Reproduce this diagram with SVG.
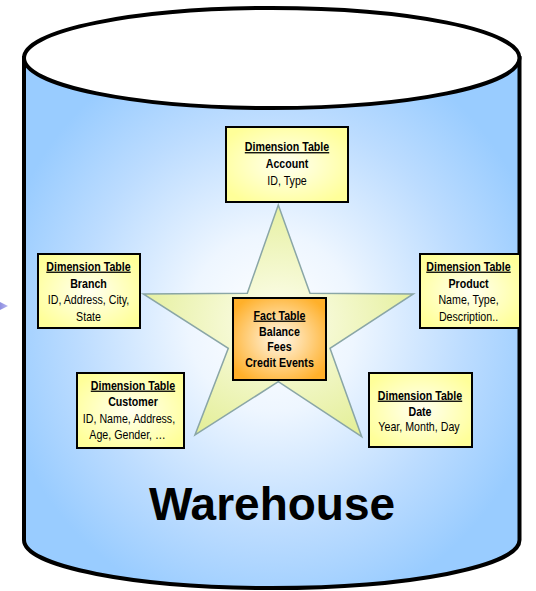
<svg xmlns="http://www.w3.org/2000/svg" width="536" height="591" viewBox="0 0 536 591">
<defs>
<radialGradient id="gBody" cx="0.5" cy="0.5" r="0.56">
<stop offset="0" stop-color="#ffffff"/>
<stop offset="0.3" stop-color="#eef6ff"/>
<stop offset="0.7" stop-color="#bcdcff"/>
<stop offset="1" stop-color="#99ccff"/>
</radialGradient>
<radialGradient id="gDim" cx="0.5" cy="0.5" r="0.6">
<stop offset="0" stop-color="#fffff2"/>
<stop offset="1" stop-color="#ffff99"/>
</radialGradient>
<radialGradient id="gFact" cx="0.5" cy="0.5" r="0.6">
<stop offset="0" stop-color="#fff8ec"/>
<stop offset="1" stop-color="#ffb02a"/>
</radialGradient>
<radialGradient id="gStar" cx="0.5" cy="0.5" r="0.55">
<stop offset="0" stop-color="#fefef0"/>
<stop offset="1" stop-color="#e4ef9a"/>
</radialGradient>
<linearGradient id="gArrow" x1="0" y1="0" x2="1" y2="0">
<stop offset="0" stop-color="#8e8ee0"/>
<stop offset="1" stop-color="#b8b8f0"/>
</linearGradient>
</defs>
<style>
.cyl{stroke:#000;stroke-width:4}
.box{fill:url(#gDim);stroke:#000;stroke-width:2}
.fact{fill:url(#gFact);stroke:#000;stroke-width:2}
.t{font-family:"Liberation Sans",Arial,sans-serif;font-size:13px;text-anchor:middle;fill:#000}
.b{font-weight:bold}
.u{text-decoration:underline}
.big{font-family:"Liberation Sans",Arial,sans-serif;font-size:46px;font-weight:bold;text-anchor:middle;fill:#000}
</style>

<g id="warehouse">
<path class="cyl" d="M24,58 L24,540 A247.75,48 0 0 0 519.5,540 L519.5,58 Z" fill="url(#gBody)"/>
<ellipse class="cyl" cx="271.75" cy="58" rx="247.75" ry="50" fill="#ffffff"/>
<text class="big" x="272" y="520">Warehouse</text>
</g>

<g id="arrow-in">
<polygon points="0,302 8,306 0,310" fill="url(#gArrow)"/>
</g>

<g id="star">
<polygon points="278.3,205 310,293.3 413.3,294 330,348.3 361.7,436.7 278.3,381.7 195,435 228.3,348.3 143.3,294 247.3,293.3" fill="url(#gStar)" stroke="#8aa6a6" stroke-width="1.5" stroke-linejoin="miter"/>
</g>

<g id="connectors"></g>

<g id="fact">
<rect class="fact" x="233" y="298" width="93" height="82"/>
<text class="t b u" transform="translate(279.5,319.5) scale(0.82,1)">Fact Table</text>
<text class="t b" transform="translate(279.5,335.5) scale(0.82,1)">Balance</text>
<text class="t b" transform="translate(279.5,350.5) scale(0.82,1)">Fees</text>
<text class="t b" transform="translate(279.5,366.5) scale(0.82,1)">Credit Events</text>
</g>

<g id="account">
<rect class="box" x="226" y="127" width="122" height="75"/>
<text class="t b u" transform="translate(287,151) scale(0.82,1)">Dimension Table</text>
<text class="t b" transform="translate(287,168) scale(0.82,1)">Account</text>
<text class="t" transform="translate(287,185) scale(0.82,1)">ID, Type</text>
</g>

<g id="branch">
<rect class="box" x="38" y="254" width="102" height="74"/>
<text class="t b u" transform="translate(88.5,270.5) scale(0.82,1)">Dimension Table</text>
<text class="t b" transform="translate(88.5,287.5) scale(0.82,1)">Branch</text>
<text class="t" transform="translate(88.5,304) scale(0.82,1)">ID, Address, City,</text>
<text class="t" transform="translate(88.5,320.5) scale(0.82,1)">State</text>
</g>

<g id="product">
<rect class="box" x="420" y="254" width="100" height="74"/>
<text class="t b u" transform="translate(468.5,270.5) scale(0.82,1)">Dimension Table</text>
<text class="t b" transform="translate(468.5,287.5) scale(0.82,1)">Product</text>
<text class="t" transform="translate(468.5,304) scale(0.82,1)">Name, Type,</text>
<text class="t" transform="translate(468.5,320.5) scale(0.82,1)">Description..</text>
</g>

<g id="customer">
<rect class="box" x="77" y="373" width="107" height="75"/>
<text class="t b u" transform="translate(133,389.5) scale(0.82,1)">Dimension Table</text>
<text class="t b" transform="translate(133,406) scale(0.82,1)">Customer</text>
<text class="t" transform="translate(129,422.5) scale(0.82,1)">ID, Name, Address,</text>
<text class="t" transform="translate(127.5,438.5) scale(0.82,1)">Age, Gender,  …</text>
</g>

<g id="date">
<rect class="box" x="369" y="373" width="103" height="74"/>
<text class="t b u" transform="translate(420,399.5) scale(0.82,1)">Dimension Table</text>
<text class="t b" transform="translate(420,415.5) scale(0.82,1)">Date</text>
<text class="t" transform="translate(419,431) scale(0.82,1)">Year, Month, Day</text>
</g>
</svg>
